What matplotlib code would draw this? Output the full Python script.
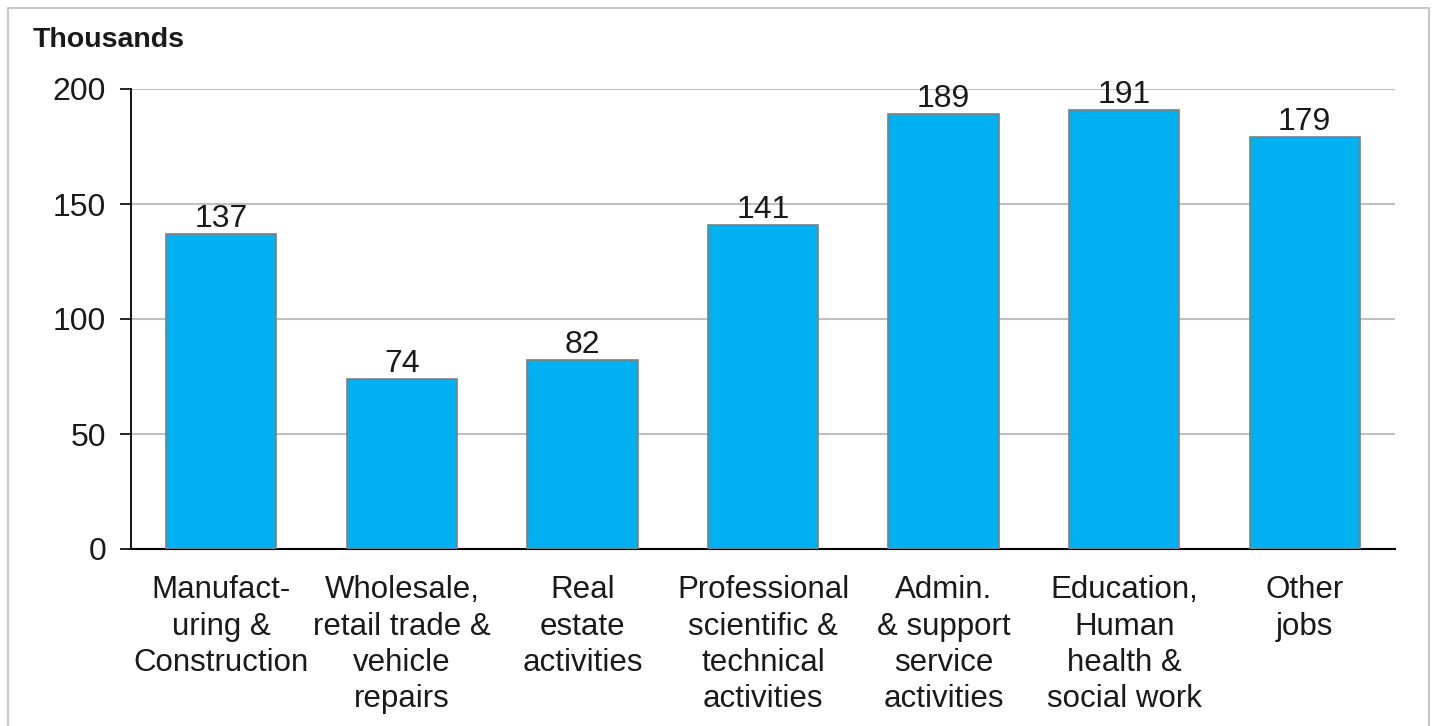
import matplotlib.pyplot as plt
from matplotlib.patches import Rectangle

plt.rcParams['font.family'] = ['Liberation Sans', 'DejaVu Sans']

categories = [
    "Manufact-\nuring &\nConstruction",
    "Wholesale,\nretail trade &\nvehicle\nrepairs",
    "Real\nestate\nactivities",
    "Professional\nscientific &\ntechnical\nactivities",
    "Admin.\n& support\nservice\nactivities",
    "Education,\nHuman\nhealth &\nsocial work",
    "Other\njobs",
]
values = [137, 74, 82, 141, 189, 191, 179]
yticks = [0, 50, 100, 150, 200]

fig = plt.figure(figsize=(14.33, 7.26), dpi=100)
ax = fig.add_axes([131 / 1433, 1 - 549 / 726, (1395 - 131) / 1433, (549 - 89) / 726])

# light frame around the whole chart
fig.patches.append(Rectangle((8 / 1433, -0.01), (1429 - 8) / 1433, 1 - 8 / 726 + 0.01,
                             transform=fig.transFigure, fill=False,
                             edgecolor='#c8c8c8', linewidth=1.5))

x = range(len(categories))
bars = ax.bar(x, values, width=0.61, color='#00b0f0', edgecolor='#7f7f7f',
              linewidth=1.2, zorder=3)

for b, v in zip(bars, values):
    ax.annotate(str(v), (b.get_x() + b.get_width() / 2, v), xytext=(0, 0),
                textcoords='offset points', ha='center', va='bottom',
                fontsize=23, color='#1a1a1a')

ax.set_xlim(-0.5, len(categories) - 0.5)
ax.set_ylim(0, 200)
ax.set_yticks(yticks)
ax.set_xticks(list(x))
ax.set_xticklabels(categories, fontsize=22.5, color='#1a1a1a', linespacing=1.27)
ax.tick_params(axis='x', length=0, pad=19)
ax.tick_params(axis='y', labelsize=23, labelcolor='#1a1a1a', length=8,
               width=1.2, direction='out', pad=10)
ax.grid(axis='y', color='#c0c0c0', linewidth=1.5, zorder=0)

for s in ['top', 'right']:
    ax.spines[s].set_visible(False)
ax.spines['left'].set_linewidth(1.3)
ax.spines['bottom'].set_linewidth(1.5)

fig.text(33 / 1433, 1 - 40 / 726, "Thousands", fontsize=20.5, fontweight='bold',
         color='#1a1a1a', ha='left', va='center')

fig.savefig('out.png', dpi=100)
